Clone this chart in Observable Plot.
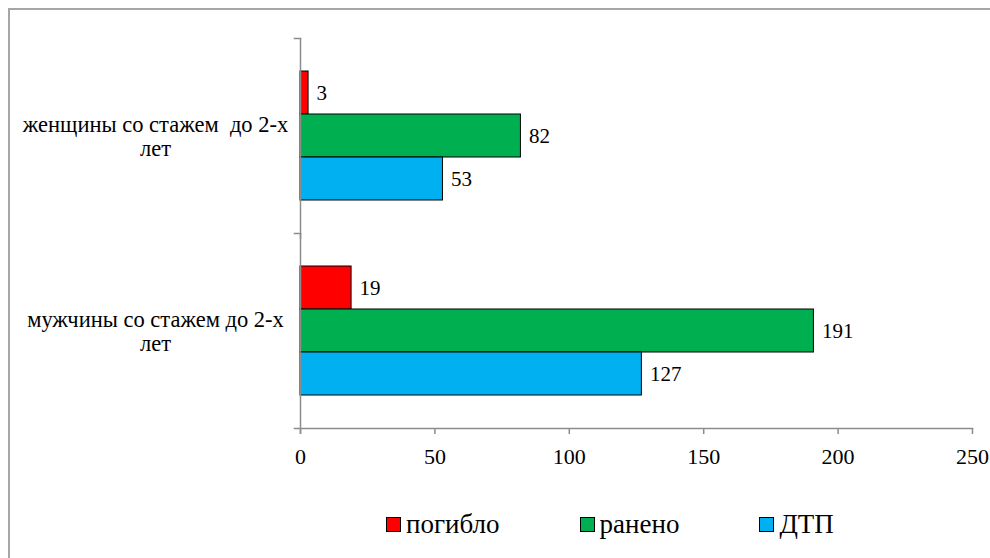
<!DOCTYPE html>
<html><head><meta charset="utf-8">
<script src="https://cdn.jsdelivr.net/npm/d3@7"></script>
<script src="https://cdn.jsdelivr.net/npm/@observablehq/plot@0.6"></script>
<style>
html,body{margin:0;padding:0;background:#fff;overflow:hidden;width:990px;height:558px;}
#chart{position:absolute;left:0;top:0;}
#chart svg, #chart svg text{font-family:"Liberation Serif","Times New Roman","DejaVu Serif",serif !important;}
#frame{position:absolute;left:8px;top:8px;width:1200px;height:800px;border:2px solid #a6a6a6;box-sizing:border-box;pointer-events:none;}
#legend{position:absolute;left:386px;top:509px;display:flex;align-items:center;gap:80px;font-family:"Liberation Serif","Times New Roman","DejaVu Serif",serif;font-size:27px;color:#000;}
.item{display:flex;align-items:center;gap:5px;}
.sw{width:13px;height:13px;border:1px solid #000;}
</style></head><body>
<div id="chart"></div><div id="legend"></div><div id="frame"></div>
<script>
const categories = ["женщины со стажем  до 2-х\nлет", "мужчины со стажем до 2-х\nлет"];
const seriesNames = ["погибло", "ранено", "ДТП"];
const killed = [3, 19];
const injured = [82, 191];
const accidents = [53, 127];
const seriesColors = ["#ff0000", "#00b050", "#00b0f0"];
const xTicks = [0, 50, 100, 150, 200, 250];

const seriesValues = [killed, injured, accidents];
const data = [];
categories.forEach((c, ci) => seriesNames.forEach((s, si) => data.push({category: c, series: s, value: seriesValues[si][ci]})));

const W = 990, H = 480, ML = 300, MR = 18, MT = 37, MB = 52;
const axisGray = "#8c8c8c";

const chart = Plot.plot({
  width: W, height: H,
  marginLeft: ML, marginRight: MR, marginTop: MT, marginBottom: MB,
  style: {background: "transparent", color: "#000"},
  x: {domain: [0, 250], axis: null},
  y: {domain: seriesNames, paddingInner: 0, paddingOuter: 0.74, axis: null},
  fy: {domain: categories, padding: 0, axis: null},
  color: {domain: seriesNames, range: seriesColors},
  marks: [
    Plot.barX(data, {x: "value", y: "series", fy: "category", fill: "series", stroke: "#000", strokeWidth: 1}),
    Plot.text(data, {x: "value", y: "series", fy: "category", text: d => String(d.value), textAnchor: "start", dx: 8, fontSize: 21, fill: "#000"}),
    Plot.ruleX([0], {stroke: axisGray, strokeWidth: 1.5, insetBottom: -6}),
    Plot.frame({anchor: "top", stroke: axisGray, strokeWidth: 1.5, insetLeft: -6, insetRight: W - ML - MR}),
    Plot.frame({anchor: "bottom", facetAnchor: "bottom", stroke: axisGray, strokeWidth: 1.5, insetLeft: -6}),
    Plot.axisX({ticks: xTicks, tickSize: 6, tickPadding: 14, stroke: axisGray, strokeWidth: 1.5, fontSize: 22, fill: "#000", label: null}),
    Plot.axisFy({anchor: "left", tickSize: 0, tickPadding: 145, textAnchor: "middle", lineHeight: 1.07, fontSize: 22.5, fill: "#000", label: null})
  ]
});
document.getElementById("chart").appendChild(chart);

const legend = document.getElementById("legend");
seriesNames.forEach((s, i) => {
  const item = document.createElement("div");
  item.className = "item";
  const sw = document.createElement("div");
  sw.className = "sw";
  sw.style.background = seriesColors[i];
  const t = document.createElement("span");
  t.textContent = s;
  item.appendChild(sw); item.appendChild(t);
  legend.appendChild(item);
});
</script>
</body></html>
